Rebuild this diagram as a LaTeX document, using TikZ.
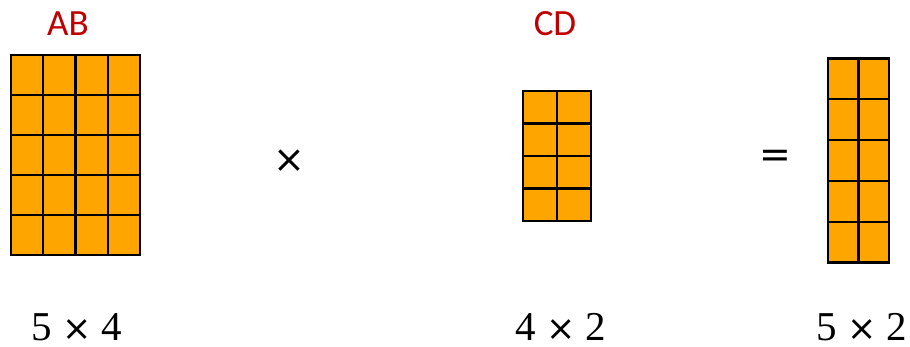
\documentclass[tikz,border=0pt]{standalone}
\usepackage{fontspec}
\usepackage{xcolor}
\usepackage{tikz}
\usetikzlibrary{positioning}
\newfontfamily\labelfont{Carlito}
\newfontfamily\sizefont{Liberation Serif}
\newfontfamily\signfont{DejaVu Sans}
\definecolor{myred}{RGB}{192,0,0}
\definecolor{myorange}{RGB}{255,165,0}
\tikzset{
  cell/.style={draw=black, fill=myorange, line width=2.2pt},
  title/.style={font=\labelfont\fontsize{37}{40}\selectfont, text=myred, inner sep=0pt},
  opsign/.style={font=\signfont\fontsize{38}{42}\selectfont, inner sep=0pt, anchor=base},
  dimtext/.style={font=\sizefont\fontsize{41}{45}\selectfont, inner sep=0pt,
    anchor=base, text depth=0pt}
}
\newcommand{\bigtimes}{{\signfont\fontsize{35}{40}\selectfont ×}}

\begin{document}
\begin{tikzpicture}[x=1pt, y=-1pt]
  \useasboundingbox (0,0) rectangle (910,347);

  % matrix AB (5 x 4)
  \foreach \r in {0,...,4}
    \foreach \c in {0,...,3}
      \draw[cell] (11+\c*32.25, 55+\r*40) rectangle ++(32.25,40);
  \node[title] (ab) at (68,24) {AB};

  % times sign
  \node[opsign] (times) at (289.5,173) {×};

  % matrix CD (4 x 2)
  \foreach \r in {0,...,3}
    \foreach \c in {0,...,1}
      \draw[cell] (523+\c*34, 91+\r*32.5) rectangle ++(34,32.5);
  \node[title] (cd) at (555,24) {CD};

  % equals sign
  \node[opsign] (eq) at (775,168) {=};

  % result (5 x 2)
  \foreach \r in {0,...,4}
    \foreach \c in {0,...,1}
      \draw[cell] (828+\c*30.5, 58.5+\r*40.8) rectangle ++(30.5,40.8);

  % sizes
  \node[dimtext] (dimab) at (77,340) {5 \bigtimes{} 4};
  \node[dimtext] (dimcd) at (561,340) {4 \bigtimes{} 2};
  \node[dimtext] (dimres) at (862,340) {5 \bigtimes{} 2};
\end{tikzpicture}
\end{document}
